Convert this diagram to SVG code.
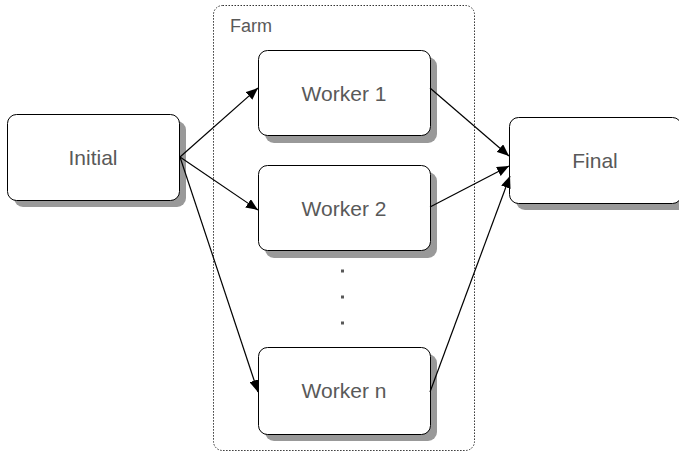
<svg xmlns="http://www.w3.org/2000/svg" width="679" height="452" viewBox="0 0 679 452">
<style>
.shadow{fill:#999999;stroke:none}
.box{fill:#ffffff;stroke:#000000;stroke-width:1}
.lbl{font-family:"Liberation Sans",Arial,sans-serif;font-size:21px;fill:#595959;text-anchor:middle}
.conn{stroke:#000000;stroke-width:1.2;fill:none;marker-end:url(#arr)}
</style>
<defs>
<marker id="arr" viewBox="0 0 12 10" refX="12" refY="5" markerWidth="12" markerHeight="10" markerUnits="userSpaceOnUse" orient="auto">
<path d="M0,0 L12,5 L0,10 Z" fill="#000000"/>
</marker>
</defs>
<g id="farm">
<rect x="213.5" y="5.5" width="261" height="445" rx="9" fill="none" stroke="#333333" stroke-width="1" stroke-dasharray="1.5,1.5"/>
<text x="230" y="32" font-family="Liberation Sans, Arial, sans-serif" font-size="18" fill="#595959">Farm</text>
</g>
<g id="initial">
<rect class="shadow" x="14" y="121" width="172" height="86" rx="9"/>
<rect class="box" x="7.5" y="114.5" width="172" height="86" rx="9"/>
<text class="lbl" x="93" y="165">Initial</text>
</g>
<g id="worker1">
<rect class="shadow" x="265" y="57" width="172" height="86" rx="9"/>
<rect class="box" x="258.5" y="50.5" width="172" height="85" rx="9"/>
<text class="lbl" x="344" y="101">Worker 1</text>
</g>
<g id="worker2">
<rect class="shadow" x="265" y="172" width="172" height="86" rx="9"/>
<rect class="box" x="258.5" y="165.5" width="172" height="85" rx="9"/>
<text class="lbl" x="344" y="216">Worker 2</text>
</g>
<g id="dots" fill="#595959">
<rect x="341" y="269.5" width="3" height="3"/>
<rect x="341" y="295.5" width="3" height="3"/>
<rect x="341" y="321.5" width="3" height="3"/>
</g>
<g id="workern">
<rect class="shadow" x="265" y="354" width="172" height="87" rx="9"/>
<rect class="box" x="258.5" y="347.5" width="172" height="87" rx="9"/>
<text class="lbl" x="344" y="398">Worker n</text>
</g>
<g id="final">
<rect class="shadow" x="516" y="124" width="172" height="86" rx="9"/>
<rect class="box" x="509.5" y="117.5" width="172" height="86" rx="9"/>
<text class="lbl" x="595" y="168">Final</text>
</g>
<g id="connectors">
<line class="conn" x1="180" y1="157" x2="258" y2="88"/>
<line class="conn" x1="180" y1="157" x2="258" y2="210"/>
<line class="conn" x1="180" y1="157" x2="258" y2="392"/>
<line class="conn" x1="430" y1="88" x2="509" y2="156"/>
<line class="conn" x1="430" y1="207" x2="509" y2="166"/>
<line class="conn" x1="430" y1="392" x2="510" y2="176"/>
</g>
</svg>
